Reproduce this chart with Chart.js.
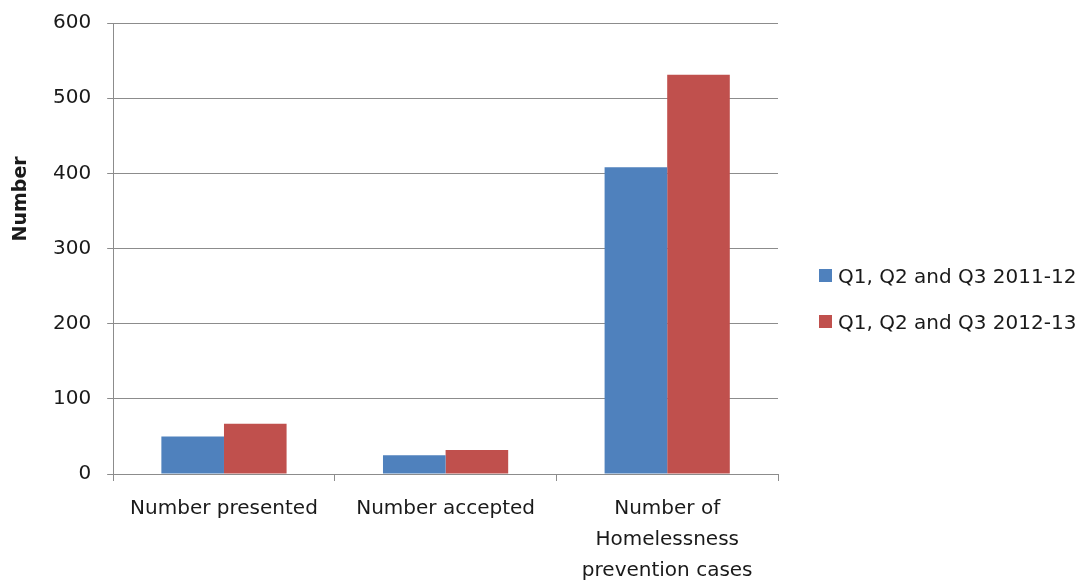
<!DOCTYPE html>
<html>
<head>
<meta charset="utf-8">
<script src="https://cdn.jsdelivr.net/npm/chart.js@4.4.0/dist/chart.umd.min.js"></script>
<style>
  html, body { margin: 0; padding: 0; background: #fff; }
  #wrap { width: 1082px; height: 581px; position: relative; }
  #legend { position: absolute; left: 819px; top: 262px; font: 20px 'DejaVu Sans', sans-serif; color: #1a1a1a; }
  #legend .item { display: flex; align-items: center; height: 27px; margin-bottom: 19px; white-space: nowrap; }
  #legend .swatch { width: 13px; height: 13px; margin-right: 6px; }
</style>
</head>
<body>
<div id="wrap"><canvas id="bars"></canvas><div id="legend"></div></div>
<script>
const categories = ['Number presented', 'Number accepted', ['Number of', 'Homelessness', 'prevention cases']]
const series2011 = [50, 25, 408]
const series2012 = [67, 32, 531]
const seriesNames = ['Q1, Q2 and Q3 2011-12', 'Q1, Q2 and Q3 2012-13']
const yTicks = [0, 100, 200, 300, 400, 500, 600]
const yTitle = 'Number'

const font = "'DejaVu Sans', sans-serif"
const gridGrey = '#8c8c8c'
const textColor = '#1a1a1a'

// y axis title sits a bit above the middle of the plot, so draw it by hand
const yTitlePlugin = {
    id: 'yTitle',
    afterDraw(chart) {
        const c = chart.ctx
        const area = chart.chartArea
        c.save()
        c.translate(21, area.top + area.height * 0.39)
        c.rotate(-Math.PI / 2)
        c.font = 'bold 19px ' + font
        c.fillStyle = textColor
        c.textAlign = 'center'
        c.textBaseline = 'middle'
        c.fillText(yTitle, 0, 0)
        c.restore()
    }
}

const ctx = document.getElementById('bars')
const myChart = new Chart(ctx, {
    type: 'bar',
    data: {
        labels: categories,
        datasets: [
            { label: seriesNames[0], data: series2011, backgroundColor: '#4f81bd' },
            { label: seriesNames[1], data: series2012, backgroundColor: '#c0504d' }
        ]
    },
    options: {
        responsive: true,
        maintainAspectRatio: false,
        animation: false,
        // right side is left free for the html legend
        layout: { padding: { top: 7, right: 304, bottom: 0, left: 37 } },
        datasets: {
            bar: { barPercentage: 1, categoryPercentage: 0.565 }
        },
        plugins: {
            tooltip: { enabled: false },
            legend: { display: false }
        },
        scales: {
            y: {
                min: 0,
                max: 600,
                afterBuildTicks: axis => { axis.ticks = yTicks.map(v => ({ value: v })) },
                border: { color: gridGrey, width: 1 },
                grid: { color: gridGrey, tickLength: 6, drawTicks: true },
                // small lineHeight keeps the top label from pushing the plot down
                ticks: { color: textColor, padding: 16, font: { family: font, size: 20, lineHeight: 0.7 } }
            },
            x: {
                afterFit: axis => { axis.height = 107 },
                border: { color: gridGrey, width: 1 },
                grid: { offset: true, drawOnChartArea: false, color: gridGrey, tickLength: 7 },
                ticks: {
                    color: textColor,
                    padding: 12,
                    maxRotation: 0,
                    autoSkip: false,
                    font: { family: font, size: 20, lineHeight: 1.55 }
                }
            }
        }
    },
    plugins: [yTitlePlugin]
})

// legend built from the chart's datasets
const legendEl = document.getElementById('legend')
for (const ds of myChart.data.datasets) {
    const item = document.createElement('div')
    item.className = 'item'
    const sw = document.createElement('span')
    sw.className = 'swatch'
    sw.style.background = ds.backgroundColor
    const label = document.createElement('span')
    label.textContent = ds.label
    item.appendChild(sw)
    item.appendChild(label)
    legendEl.appendChild(item)
}
</script>
</body>
</html>
